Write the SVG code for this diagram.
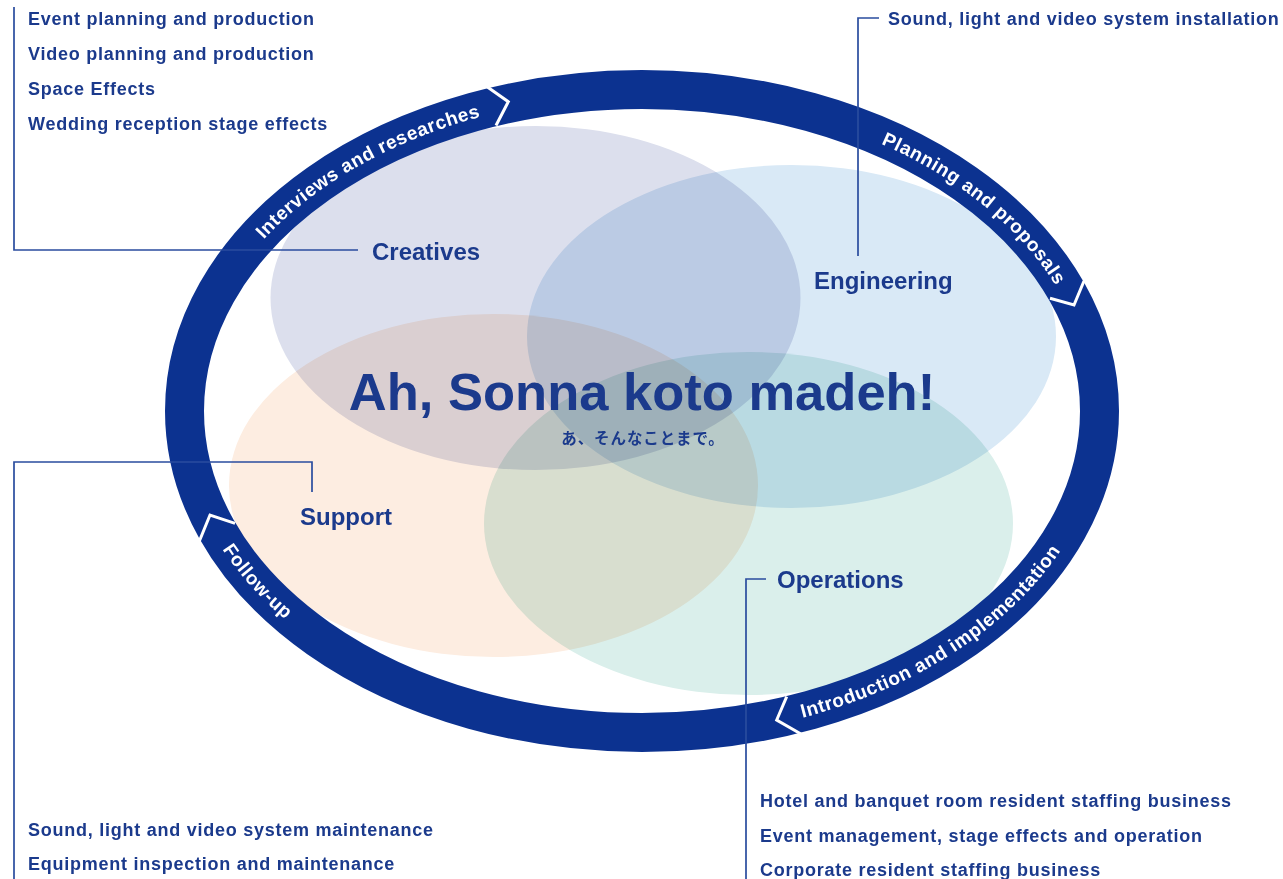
<svg xmlns="http://www.w3.org/2000/svg" width="1283" height="879" viewBox="0 0 1283 879">
<style>
.t{font-family:"Liberation Sans",Arial,sans-serif;font-weight:bold;fill:#1b3a8c}
.list{font-size:18px;letter-spacing:0.75px}
.node{font-size:24px}
.ring{font-family:"Liberation Sans",Arial,sans-serif;font-weight:bold;fill:#fff;font-size:19px;letter-spacing:0.6px}
.lead{fill:none;stroke:#2a4c9e;stroke-width:1.7}
.chev{fill:none;stroke:#fff;stroke-width:3;stroke-linejoin:miter}
.bl{mix-blend-mode:multiply}
</style>
<defs>
<path id="pInt" d="M 263.8,239.4 A 451 315 0 0 1 867.5,138.2"/>
<path id="pPlan" d="M 881,143.9 A 451 315 0 0 1 1093,411"/>
<path id="pIntro" d="M 802.6,717.7 A 463 327 0 0 0 1103,439.5"/>
<path id="pFol" d="M 222.4,549.2 A 463 327 0 0 0 483.6,718.3"/>
</defs>
<rect width="1283" height="879" fill="#fff"/>
<g id="circles">
<ellipse class="bl" cx="535.5" cy="298" rx="265" ry="172" fill="#dcdfed"/>
<ellipse class="bl" cx="791.5" cy="336.5" rx="264.5" ry="171.5" fill="#d9e9f6"/>
<ellipse class="bl" cx="493.5" cy="485.5" rx="264.5" ry="171.5" fill="#fdede1"/>
<ellipse class="bl" cx="748.5" cy="523.5" rx="264.5" ry="171.5" fill="#daefeb"/>
</g>
<g id="cycle">
<ellipse cx="642" cy="411" rx="457.5" ry="321.5" fill="none" stroke="#0c3290" stroke-width="39"/>
<polyline class="chev" points="486,86 508.3,101.7 496,125.5"/>
<polyline class="chev" points="1050,298.3 1074,305 1084,281"/>
<polyline class="chev" points="199,542 210,515 235,523.3"/>
<polyline class="chev" points="786.7,696.7 776.7,720 801,734"/>
<text class="ring"><textPath href="#pInt">Interviews and researches</textPath></text>
<text class="ring"><textPath href="#pPlan">Planning and proposals</textPath></text>
<text class="ring"><textPath href="#pIntro">Introduction and implementation</textPath></text>
<text class="ring"><textPath href="#pFol">Follow-up</textPath></text>
</g>
<g id="connectors">
<polyline class="lead" points="14,7 14,250 358,250"/>
<polyline class="lead" points="879,18 858,18 858,256"/>
<polyline class="lead" points="14,879 14,462 312,462 312,492"/>
<polyline class="lead" points="746,879 746,579 766,579"/>
</g>
<g id="center">
<text class="t" x="642" y="410" text-anchor="middle" font-size="52.5">Ah, Sonna koto madeh!</text>
<text class="t" x="643" y="444" text-anchor="middle" font-size="15.5" letter-spacing="0.9" style="font-family:'Noto Sans CJK JP','Liberation Sans',sans-serif">あ、そんなことまで。</text>
</g>
<g id="creatives">
<text class="t node" x="372" y="260">Creatives</text>
<text class="t list" x="28" y="25">Event planning and production</text>
<text class="t list" x="28" y="60">Video planning and production</text>
<text class="t list" x="28" y="95">Space Effects</text>
<text class="t list" x="28" y="130">Wedding reception stage effects</text>
</g>
<g id="engineering">
<text class="t node" x="814" y="289">Engineering</text>
<text class="t list" x="888" y="25">Sound, light and video system installation</text>
</g>
<g id="support">
<text class="t node" x="300" y="525">Support</text>
<text class="t list" x="28" y="836">Sound, light and video system maintenance</text>
<text class="t list" x="28" y="870">Equipment inspection and maintenance</text>
</g>
<g id="operations">
<text class="t node" x="777" y="588">Operations</text>
<text class="t list" x="760" y="807">Hotel and banquet room resident staffing business</text>
<text class="t list" x="760" y="842">Event management, stage effects and operation</text>
<text class="t list" x="760" y="876">Corporate resident staffing business</text>
</g>
</svg>
